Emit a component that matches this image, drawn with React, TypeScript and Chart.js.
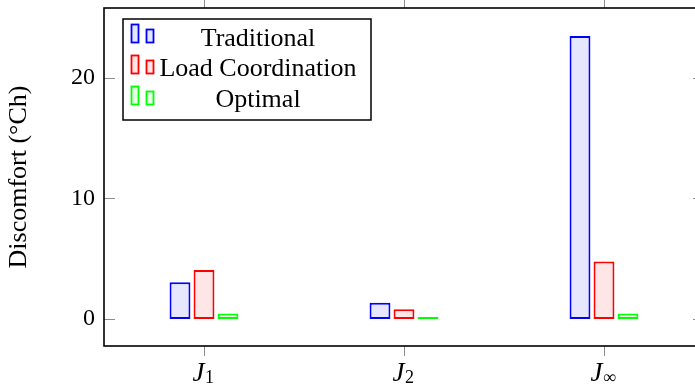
import React, { useEffect, useRef } from "react";
import { Chart, registerables } from "chart.js";

Chart.register(...registerables);

// ---- data ----
const categories = ["J_1", "J_2", "J_∞"];
const seriesNames = ["Traditional", "Load Coordination", "Optimal"];
const traditional = [3.05, 1.35, 23.45];
const loadCoordination = [4.05, 0.8, 4.75];
const optimal = [0.45, 0.05, 0.45];
const yTicks = [0, 10, 20];
const yMin = -2.24;
const yMax = 25.76;
const yTitle = "Discomfort (°Ch)";

const borderColors = ["rgb(0,0,255)", "rgb(255,0,0)", "rgb(0,255,0)"];
const fillColors = ["rgb(230,230,255)", "rgb(255,230,230)", "rgb(230,255,230)"];
const FONT = "'Liberation Serif', 'Times New Roman', serif";

const decor = {
  id: "decor",
  afterDraw(chart: any) {
    const { ctx, chartArea: a, scales } = chart;
    const line = (x1: number, y1: number, x2: number, y2: number) => {
      ctx.beginPath();
      ctx.moveTo(x1, y1);
      ctx.lineTo(x2, y2);
      ctx.stroke();
    };
    ctx.save();
    // tick marks
    ctx.strokeStyle = "rgba(0,0,0,0.45)";
    ctx.lineWidth = 1;
    yTicks.forEach((v) => {
      const y = Math.round(scales.y.getPixelForValue(v)) + 0.5;
      line(a.left, y, a.left + 11, y);
      line(a.right - 11, y, a.right, y);
    });
    categories.forEach((_c, i) => {
      const x = Math.round(scales.x.getPixelForValue(i)) + 0.5;
      line(x, a.bottom, x, a.bottom + 10);
      line(x, a.top - 10, x, a.top);
    });
    // frame
    ctx.strokeStyle = "#000";
    ctx.lineWidth = 1.6;
    ctx.strokeRect(a.left, a.top, a.right - a.left, a.bottom - a.top);

    // x labels with subscript
    ctx.fillStyle = "#000";
    ctx.textBaseline = "alphabetic";
    ctx.textAlign = "left";
    categories.forEach((c, i) => {
      const [base, sub] = c.split("_");
      const x = scales.x.getPixelForValue(i);
      ctx.font = `italic 27px ${FONT}`;
      const wb = ctx.measureText(base).width;
      ctx.font = `18px ${FONT}`;
      const ws = ctx.measureText(sub).width;
      const start = x - (wb + ws) / 2 - 1;
      ctx.font = `italic 27px ${FONT}`;
      ctx.fillText(base, start, a.bottom + 35);
      ctx.font = `18px ${FONT}`;
      ctx.fillText(sub, start + wb + 0.5, a.bottom + 37);
    });

    // legend
    const bx = a.left + 19;
    const by = a.top + 11;
    const bw = 248;
    const bh = 101;
    ctx.fillStyle = "#fff";
    ctx.fillRect(bx, by, bw, bh);
    ctx.strokeStyle = "#000";
    ctx.lineWidth = 1.5;
    ctx.strokeRect(bx, by, bw, bh);
    chart.data.datasets.forEach((ds: any, r: number) => {
      const bottom = by + 23.5 + r * 31;
      ctx.lineWidth = 1.8;
      ctx.strokeStyle = ds.borderColor;
      ctx.fillStyle = ds.backgroundColor;
      ctx.fillRect(bx + 8.5, bottom - 18, 7, 18);
      ctx.strokeRect(bx + 8.5, bottom - 18, 7, 18);
      ctx.fillRect(bx + 23.5, bottom - 13, 7, 13);
      ctx.strokeRect(bx + 23.5, bottom - 13, 7, 13);
      ctx.fillStyle = "#000";
      ctx.font = `26px ${FONT}`;
      ctx.textAlign = "center";
      ctx.fillText(ds.label, bx + 135, by + 26.7 + r * 30.5);
    });
    ctx.restore();
  },
};

export default function App() {
  const ref = useRef<HTMLCanvasElement>(null);
  useEffect(() => {
    if (!ref.current) return;
    const seriesValues = [traditional, loadCoordination, optimal];
    const chart = new Chart(ref.current, {
      type: "bar",
      data: {
        labels: categories,
        datasets: seriesValues.map((vals, i) => ({
          label: seriesNames[i],
          data: vals,
          backgroundColor: fillColors[i],
          borderColor: borderColors[i],
          borderWidth: 2,
          borderSkipped: false,
          minBarLength: 2,
          barPercentage: 0.87,
          categoryPercentage: 0.36,
        })),
      },
      options: {
        animation: false,
        responsive: false,
        devicePixelRatio: 1,
        layout: { padding: { left: 0, right: 16, top: 8, bottom: 0 } },
        plugins: { legend: { display: false }, tooltip: { enabled: false } },
        scales: {
          x: {
            offset: true,
            grid: { display: false, drawTicks: false },
            border: { display: false },
            ticks: { display: false },
            afterFit: (s: any) => {
              s.height = 44;
              s.paddingLeft = 0;
              s.paddingRight = 0;
            },
          },
          y: {
            min: yMin,
            max: yMax,
            afterBuildTicks: (s: any) => {
              s.ticks = yTicks.map((v) => ({ value: v }));
            },
            afterFit: (s: any) => {
              s.width = 104;
              s.paddingTop = 0;
              s.paddingBottom = 0;
            },
            grid: { display: false, drawTicks: false },
            border: { display: false },
            ticks: { color: "#000", font: { family: FONT, size: 24 }, padding: 9 },
            title: {
              display: true,
              text: yTitle,
              color: "#000",
              font: { family: FONT, size: 26 },
              padding: { top: 4, bottom: 0 },
            },
          },
        },
      },
      plugins: [decor],
    });
    return () => chart.destroy();
  }, []);
  return (
    <div
      style={{
        position: "fixed",
        left: 0,
        top: 0,
        width: 695,
        height: 390,
        overflow: "hidden",
        background: "#fff",
      }}
    >
      <canvas ref={ref} width={720} height={390} style={{ width: 720, height: 390, display: "block" }} />
    </div>
  );
}
